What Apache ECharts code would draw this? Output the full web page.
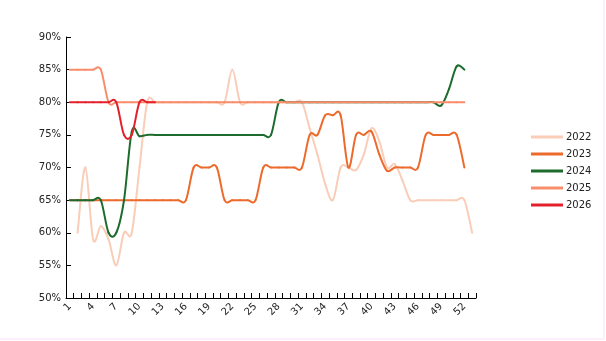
<!DOCTYPE html>
<html>
<head>
<meta charset="utf-8">
<script src="https://cdn.jsdelivr.net/npm/echarts@6/dist/echarts.min.js"></script>
<style>
html,body{margin:0;padding:0;background:#fff;}
#chart{width:606px;height:341px;}
</style>
</head>
<body>
<div id="chart"></div>
<script>
const weeks = ['1','2','3','4','5','6','7','8','9','10','11','12','13','14','15','16','17','18','19','20','21','22','23','24','25','26','27','28','29','30','31','32','33','34','35','36','37','38','39','40','41','42','43','44','45','46','47','48','49','50','51','52','53'];

const s2022 = [null,60,70,59,61,59,55,60,60,70,80,80,80,80,80,80,80,80,80,80,80,85,80,80,80,80,80,80,80,80,80,76,72,67.5,65,70,70,69.6,72,76,74,70,70.5,68,65,65,65,65,65,65,65,65,60];
const s2023 = [65,65,65,65,65,65,65,65,65,65,65,65,65,65,65,65,70,70,70,70,65,65,65,65,65,70,70,70,70,70,70,75,75,78,78,78,70,75,75,75.5,72,69.5,70,70,70,70,75,75,75,75,75,70,null];
const s2024 = [65,65,65,65,65,60,60,65,75.5,74.8,75,75,75,75,75,75,75,75,75,75,75,75,75,75,75,75,75,80,80,80,80,80,80,80,80,80,80,80,80,80,80,80,80,80,80,80,80,80,79.5,82,85.5,85,null];
const s2025 = [85,85,85,85,85,80,80,80,80,80,80,80,80,80,80,80,80,80,80,80,80,80,80,80,80,80,80,80,80,80,80,80,80,80,80,80,80,80,80,80,80,80,80,80,80,80,80,80,80,80,80,80,null];
const s2026 = [80,80,80,80,80,80,80,75,75,80,80,80,null,null,null,null,null,null,null,null,null,null,null,null,null,null,null,null,null,null,null,null,null,null,null,null,null,null,null,null,null,null,null,null,null,null,null,null,null,null,null,null,null];

const seriesNames = ['2022','2023','2024','2025','2026'];
const seriesData = [s2022, s2023, s2024, s2025, s2026];
const colors = ['#f9cdb8','#ec6a2c','#1d6b2d','#f98c6a','#e3202b'];

const yMin = 50, yMax = 90, yStep = 5;

// Catmull-Rom style smoothing: each data item draws its segment to the next one,
// positioned through the chart's own axes (api.coord).
function makeRenderItem(arr, color) {
  return function (params, api) {
    const i = params.dataIndex;
    const v1 = arr[i], v2 = arr[i + 1];
    if (v1 == null || v2 == null) return null;
    const i0 = (i > 0 && arr[i - 1] != null) ? i - 1 : i;
    const i3 = (i + 2 < arr.length && arr[i + 2] != null) ? i + 2 : i + 1;
    const p0 = api.coord([i0, arr[i0]]);
    const p1 = api.coord([i, v1]);
    const p2 = api.coord([i + 1, v2]);
    const p3 = api.coord([i3, arr[i3]]);
    return {
      type: 'bezierCurve',
      shape: {
        x1: p1[0], y1: p1[1], x2: p2[0], y2: p2[1],
        cpx1: p1[0] + (p2[0] - p0[0]) / 6, cpy1: p1[1] + (p2[1] - p0[1]) / 6,
        cpx2: p2[0] - (p3[0] - p1[0]) / 6, cpy2: p2[1] - (p3[1] - p1[1]) / 6
      },
      style: {stroke: color, lineWidth: 2, fill: null, lineCap: 'round', lineJoin: 'round'},
      silent: true
    };
  };
}

const chart = echarts.init(document.getElementById('chart'), null, {renderer:'canvas'});
const font = 'DejaVu Sans';
chart.setOption({
  animation: false,
  backgroundColor: '#fff',
  grid: {left: 66, right: 130, top: 37, bottom: 43, containLabel: false},
  legend: {
    orient: 'vertical',
    left: 531, top: 131,
    padding: 0,
    itemWidth: 32, itemHeight: 3, itemGap: 5,
    icon: 'rect',
    data: seriesNames,
    textStyle: {fontFamily: font, fontSize: 10, color: '#222', padding: [0,0,0,-2], lineHeight: 12}
  },
  xAxis: {
    type: 'category',
    data: weeks,
    boundaryGap: true,
    axisLine: {lineStyle: {color: '#000', width: 1}},
    axisTick: {show: true, inside: true, length: 5, interval: 0, lineStyle: {color: '#000'}},
    axisLabel: {interval: 2, rotate: 45, fontFamily: font, fontSize: 10, color: '#222', margin: 7},
    splitLine: {show: false}
  },
  yAxis: {
    type: 'value',
    min: yMin, max: yMax, interval: yStep,
    axisLine: {show: true, lineStyle: {color: '#000', width: 1}},
    axisTick: {show: true, inside: true, length: 5, lineStyle: {color: '#000'}},
    axisLabel: {formatter: '{value}%', fontFamily: font, fontSize: 10, color: '#222', margin: 5},
    splitLine: {show: false}
  },
  graphic: [
    {type: 'line', shape: {x1: 604, y1: 0, x2: 604, y2: 339}, style: {stroke: '#f8e0f8', lineWidth: 1}},
    {type: 'line', shape: {x1: 0, y1: 339, x2: 604, y2: 339}, style: {stroke: '#f8e0f8', lineWidth: 1}}
  ],
  series: seriesNames.map((n, i) => ({
    name: n,
    type: 'custom',
    coordinateSystem: 'cartesian2d',
    data: seriesData[i].map((v, k) => [k, v == null ? '-' : v]),
    encode: {x: 0, y: 1},
    renderItem: makeRenderItem(seriesData[i], colors[i]),
    itemStyle: {color: colors[i]},
    z: 2 + i
  }))
});
</script>
</body>
</html>
